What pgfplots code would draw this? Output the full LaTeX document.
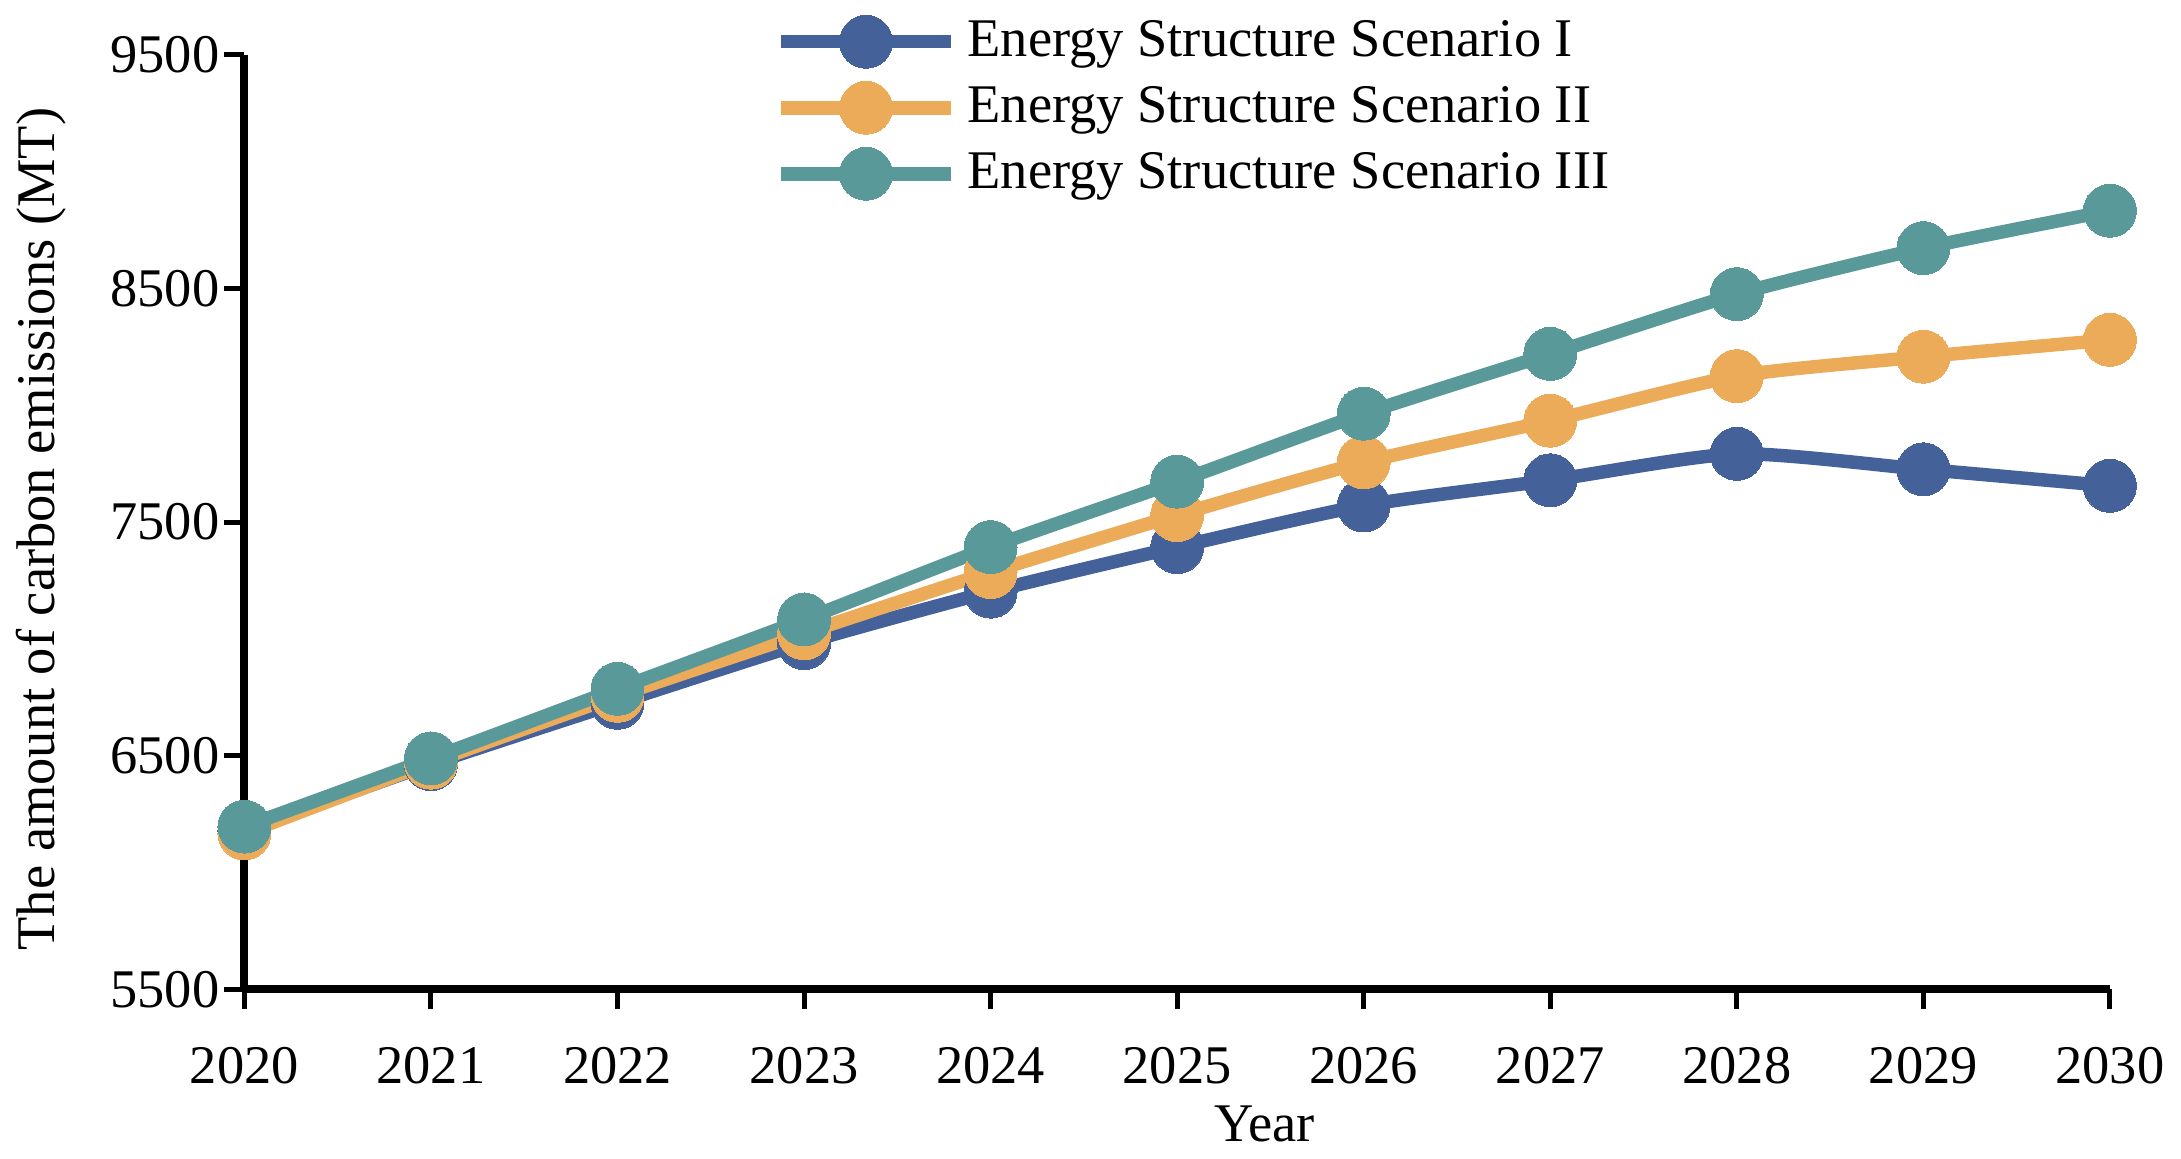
\documentclass[border=0pt]{standalone}
\usepackage{fontspec}
\setmainfont{Liberation Serif}
\usepackage{pgfplots}
\pgfplotsset{compat=1.18}
\definecolor{cI}{RGB}{68,97,153}
\definecolor{cII}{RGB}{236,171,88}
\definecolor{cIII}{RGB}{89,153,153}
\begin{document}
\begin{tikzpicture}
\begin{axis}[
  scale only axis, width=373.4pt, height=187pt,
  xmin=2020, xmax=2030, ymin=5500, ymax=9500,
  axis x line*=bottom, axis y line*=left,
  axis line style={line width=1.6pt},
  xtick={2020,2021,...,2030}, ytick={5500,6500,7500,8500,9500},
  tick align=outside, major tick length=4pt,
  every tick/.style={line width=1pt, black},
  /pgf/number format/1000 sep={},
  /pgf/number format/assume math mode=true,
  font=\fontsize{10.9}{12}\selectfont,
  x tick label style={yshift=-4pt},
  y tick label style={xshift=2.5pt},
  xlabel={Year}, ylabel={The amount of carbon emissions (MT)},
  xlabel style={at={(axis description cs:0.547,-0.1444)}, anchor=center},
  ylabel style={at={(axis description cs:-0.1087,0.4925)}, anchor=center},
  clip=false,
  legend style={draw=none, fill=none, at={(axis description cs:0.2755,1.0599)}, anchor=north west,
    row sep=0.5pt, font=\fontsize{10.9}{12}\selectfont},
  legend cell align=left,
  legend image code/.code={\draw[mark repeat=2,mark phase=2,#1] plot coordinates {(0pt,0pt) (17pt,0pt) (34pt,0pt)};},
  every axis plot/.append style={line width=2.7pt, mark=*, mark size=5.3pt, smooth, tension=0.4},
]
\addplot[cI, mark options={fill=cI, draw=cI, line width=0pt}] coordinates {
(2020,6178) (2021,6464) (2022,6726) (2023,6982) (2024,7202) (2025,7393) (2026,7571) (2027,7679) (2028,7792) (2029,7726) (2030,7655)};
\addlegendentry{Energy Structure Scenario I}
\addplot[cII, mark options={fill=cII, draw=cII, line width=0pt}] coordinates {
(2020,6167) (2021,6470) (2022,6756) (2023,7024) (2024,7286) (2025,7530) (2026,7756) (2027,7934) (2028,8125) (2029,8208) (2030,8280)};
\addlegendentry{Energy Structure Scenario II}
\addplot[cIII, mark options={fill=cIII, draw=cIII, line width=0pt}] coordinates {
(2020,6196) (2021,6488) (2022,6786) (2023,7083) (2024,7393) (2025,7673) (2026,7964) (2027,8220) (2028,8476) (2029,8673) (2030,8833)};
\addlegendentry{Energy Structure Scenario III}
\end{axis}
\path ([yshift=10.8pt]current axis.north west);
\end{tikzpicture}
\end{document}
